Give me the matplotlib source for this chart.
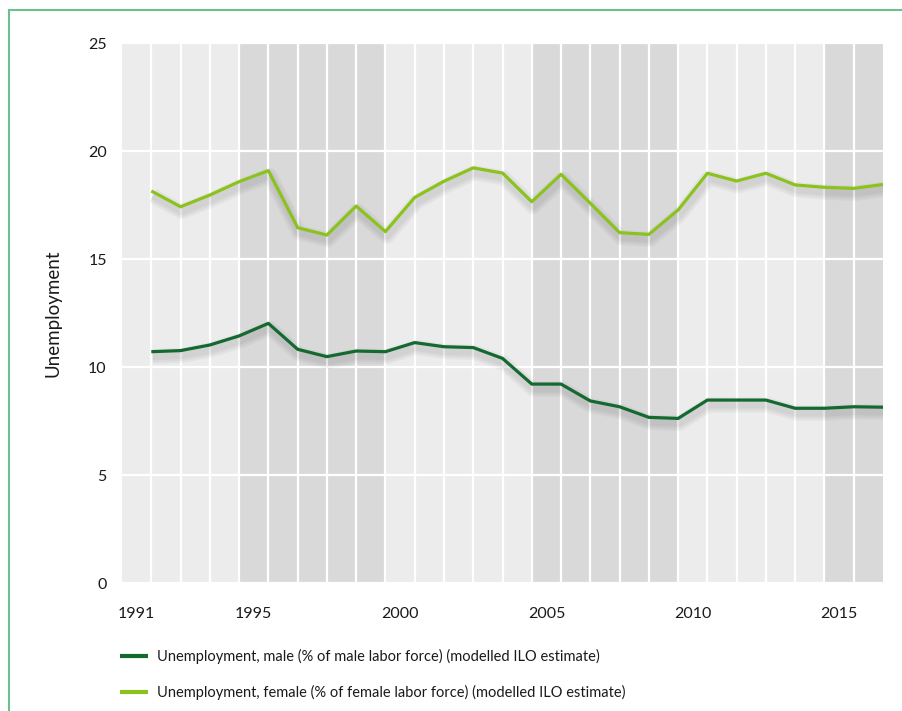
import matplotlib.pyplot as plt
import matplotlib.patheffects as pe
from matplotlib.lines import Line2D
import numpy as np

plt.rcParams['font.family'] = ['Lato', 'DejaVu Sans']

# data
years = np.arange(1991, 2017)
male = [10.71, 10.76, 11.02, 11.44, 12.02, 10.82, 10.48, 10.74, 10.71, 11.13,
        10.94, 10.90, 10.40, 9.21, 9.21, 8.43, 8.16, 7.67, 7.62, 8.47,
        8.47, 8.47, 8.09, 8.09, 8.16, 8.14]
female = [18.15, 17.42, 17.96, 18.58, 19.09, 16.45, 16.11, 17.45, 16.27, 17.85,
          18.60, 19.22, 18.98, 17.65, 18.92, 17.58, 16.22, 16.14, 17.27, 18.97,
          18.61, 18.97, 18.43, 18.32, 18.27, 18.45]
tick_labels = ['1991', '1995', '2000', '2005', '2010', '2015']
tick_pos = [1990.5, 1994.5, 1999.5, 2004.5, 2009.5, 2014.5]
dark_bands = [(1994, 1999), (2004, 2009), (2014, 2016)]

male_label = 'Unemployment, male (% of male labor force) (modelled ILO estimate)'
female_label = 'Unemployment, female (% of female labor force) (modelled ILO estimate)'
txt = '#1a1a1a'

fig = plt.figure(figsize=(9.02, 7.11), dpi=100)
ax = fig.add_axes([0.1353, 0.18, 0.8436, 0.7595])

ax.set_facecolor('#ececec')
for a, b in dark_bands:
    ax.axvspan(a, b, color='#d9d9d9', lw=0, zorder=0.2)

# soft shadow under the lines
shadow = [pe.SimpleLineShadow(offset=(1, -3.5), shadow_color='black', alpha=0.035, linewidth=w)
          for w in (11, 8, 5)] + [pe.Normal()]
ax.plot(years, male, color='#13692f', lw=2.3, label=male_label,
        path_effects=shadow, solid_capstyle='butt', zorder=3)
ax.plot(years, female, color='#8cc21d', lw=2.3, label=female_label,
        path_effects=shadow, solid_capstyle='butt', zorder=3)

ax.set_xlim(1990, 2016)
ax.set_ylim(0, 25)
ax.set_yticks([0, 5, 10, 15, 20, 25])
ax.set_xticks(tick_pos)
ax.set_xticklabels(tick_labels)
ax.set_xticks(np.arange(1991, 2016), minor=True)
ax.set_axisbelow(True)
ax.grid(axis='y', which='major', color='white', lw=1.6)
ax.grid(axis='x', which='minor', color='white', lw=1.6)
ax.tick_params(axis='both', which='both', length=0, labelsize=11.5, colors=txt)
ax.tick_params(axis='y', pad=11)
ax.tick_params(axis='x', pad=17)
for s in ax.spines.values():
    s.set_visible(False)

ax.set_ylabel('Unemployment', fontsize=13.5, color=txt, labelpad=19)

leg = ax.legend(loc='upper left', bbox_to_anchor=(0.133, 0.087), bbox_transform=fig.transFigure,
                frameon=False, fontsize=10.5, handlelength=1.95, handletextpad=0.6,
                labelspacing=1.4, borderpad=0, borderaxespad=0)
for t in leg.get_texts():
    t.set_color(txt)
for h in leg.get_lines():
    h.set_linewidth(3)
    h.set_path_effects([])

# green frame at top and left
fig.add_artist(Line2D([0.01, 1.0], [0.986, 0.986], color='#6dbf8c', lw=1.5))
fig.add_artist(Line2D([0.01, 0.01], [0.0, 0.986], color='#6dbf8c', lw=1.5))

fig.savefig('out.png', dpi=100)
